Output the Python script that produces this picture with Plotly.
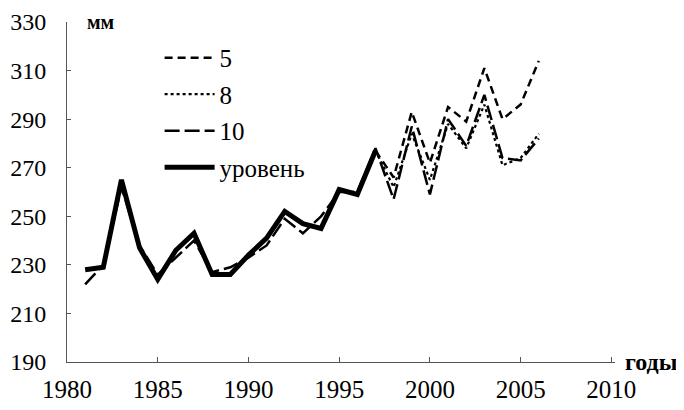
import plotly.graph_objects as go

years_level = list(range(1981, 1998))
level = [228, 229, 265, 237, 224, 236, 243, 226, 226, 234, 241, 252, 247, 245, 261, 259, 277]

years_10 = list(range(1981, 2007))
s10 = [222, 230, 262, 238, 226, 233, 240, 227, 229, 233, 238, 249, 243, 250, 260, 260, 278,
       257, 287, 259, 290, 279, 300, 274, 273, 282]

years_fc = list(range(1997, 2007))
s5 = [277, 266, 293, 272, 295, 289, 311, 290, 296, 314]
s8 = [277, 262, 284, 265, 288, 278, 296, 271, 274, 284]

x_ticks = [1980, 1985, 1990, 1995, 2000, 2005, 2010]
y_ticks = [190, 210, 230, 250, 270, 290, 310, 330]

FONT = "Liberation Serif"

fig = go.Figure()
fig.add_trace(go.Scatter(x=years_fc, y=s5, mode="lines", name="5", legendgroup="a",
                         line=dict(color="black", width=2.5, dash="8px,5px")))
fig.add_trace(go.Scatter(x=years_fc, y=s8, mode="lines", name="8", legendgroup="b",
                         line=dict(color="black", width=2.2, dash="dot")))
fig.add_trace(go.Scatter(x=years_10, y=s10, mode="lines", name="10", legendgroup="c",
                         line=dict(color="black", width=2.5, dash="15px,5px")))
fig.add_trace(go.Scatter(x=years_level, y=level, mode="lines", name="уровень", legendgroup="d",
                         line=dict(color="black", width=5)))

fig.update_layout(
    width=676, height=402,
    margin=dict(l=59, r=69, t=14, b=48, autoexpand=False),
    paper_bgcolor="white", plot_bgcolor="white",
    font=dict(family=FONT, size=25, color="black"),
    showlegend=True,
    legend=dict(x=0.169, y=0.962, xanchor="left", yanchor="top",
                bgcolor="rgba(0,0,0,0)", traceorder="grouped", tracegroupgap=1,
                itemwidth=50, font=dict(family=FONT, size=25)),
    xaxis=dict(range=[1980, 2010.2], tickvals=x_ticks, ticktext=[str(v) for v in x_ticks],
               showgrid=False, zeroline=False, showline=True, linecolor="#555", linewidth=1,
               ticks="inside", ticklen=5, tickcolor="#555", ticklabelstandoff=5,
               automargin=False, tickfont=dict(family=FONT, size=25)),
    yaxis=dict(range=[190, 330], tickvals=y_ticks, ticktext=[str(v) for v in y_ticks],
               showgrid=False, zeroline=False, showline=True, linecolor="#555", linewidth=1,
               ticks="inside", ticklen=4, tickcolor="#555", ticklabelstandoff=15,
               automargin=False, tickfont=dict(family=FONT, size=24)),
    annotations=[
        dict(text="<b>мм</b>", xref="paper", yref="paper", x=0.032, y=1.0,
             xanchor="left", yanchor="middle", showarrow=False, font=dict(family=FONT, size=20)),
        dict(text="<b>годы</b>", xref="paper", yref="paper", x=1.015, y=0.0,
             xanchor="left", yanchor="middle", showarrow=False, font=dict(family=FONT, size=24)),
    ],
)

fig.write_html("out.html")
